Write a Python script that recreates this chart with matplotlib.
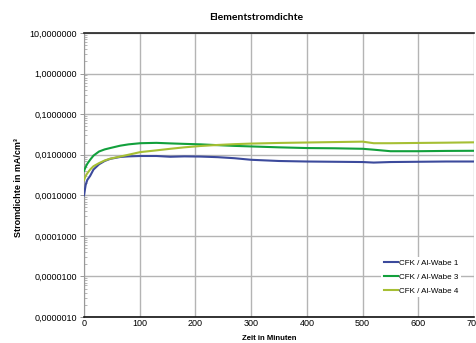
import matplotlib.pyplot as plt
from matplotlib.ticker import FixedLocator, LogLocator, NullFormatter

zeit = [0, 3, 6, 11, 17, 27, 37, 47, 65, 80, 101, 130, 155, 180, 209, 240,
        270, 300, 350, 400, 450, 500, 520, 550, 600, 650, 700]
wabe1 = [0.0010, 0.0018, 0.0024, 0.0030, 0.0043, 0.0058, 0.0070, 0.0079, 0.0088,
         0.0091, 0.0093, 0.0093, 0.0089, 0.0091, 0.0090, 0.0087, 0.0082, 0.0075,
         0.0070, 0.0068, 0.0067, 0.0066, 0.0064, 0.0066, 0.0067, 0.0068, 0.0068]
wabe3 = [0.0040, 0.0050, 0.0060, 0.0075, 0.0095, 0.0120, 0.0135, 0.0146, 0.0167,
         0.0180, 0.0192, 0.0196, 0.0190, 0.0185, 0.0180, 0.0172, 0.0165, 0.0160,
         0.0152, 0.0146, 0.0144, 0.0140, 0.0133, 0.0122, 0.0122, 0.0124, 0.0125]
wabe4 = [0.0024, 0.0030, 0.0035, 0.0043, 0.0052, 0.0062, 0.0072, 0.0080, 0.0090,
         0.0100, 0.0116, 0.0128, 0.0140, 0.0152, 0.0164, 0.0174, 0.0182, 0.0188,
         0.0195, 0.0200, 0.0205, 0.0210, 0.0192, 0.0192, 0.0195, 0.0198, 0.0202]

namen = ["CFK / Al-Wabe 1", "CFK / Al-Wabe 3", "CFK / Al-Wabe 4"]
farben = ["#3c4a9c", "#12a03c", "#a6bf34"]
x_ticks = [0, 100, 200, 300, 400, 500, 600, 700]
y_ticks = [1e-6, 1e-5, 1e-4, 1e-3, 1e-2, 1e-1, 1, 10]
y_labels = ["0,0000010", "0,0000100", "0,0001000", "0,0010000",
            "0,0100000", "0,1000000", "1,0000000", "10,0000000"]

plt.rcParams["font.family"] = ["Liberation Sans", "DejaVu Sans"]

fig = plt.figure(figsize=(4.77, 3.43), dpi=100)
ax = fig.add_axes([84 / 477, 1 - 317 / 343, 390 / 477, 284 / 343])

for werte, name, farbe in zip([wabe1, wabe3, wabe4], namen, farben):
    ax.plot(zeit, werte, color=farbe, linewidth=1.5, label=name, zorder=3)

ax.set_yscale("log")
ax.set_xlim(0, 700)
ax.set_ylim(1e-6, 10)
ax.xaxis.set_major_locator(FixedLocator(x_ticks))
ax.set_xticklabels([str(t) for t in x_ticks], fontsize=6.5)
ax.yaxis.set_major_locator(FixedLocator(y_ticks))
ax.set_yticklabels(y_labels, fontsize=6.5)
ax.yaxis.set_minor_locator(LogLocator(base=10, subs=range(2, 10)))
ax.yaxis.set_minor_formatter(NullFormatter())
ax.tick_params(axis="y", which="major", length=3, width=0.6, color="#888888", pad=2)
ax.tick_params(axis="y", which="minor", direction="in", length=2, width=0.5, color="#999999")
ax.tick_params(axis="x", which="major", length=0, pad=1.5)

ax.grid(True, which="major", color="#b4b4b4", linewidth=1.0, zorder=0)
ax.set_axisbelow(True)

ax.spines["right"].set_visible(False)
ax.spines["top"].set_color("#222222")
ax.spines["top"].set_linewidth(1.2)
ax.spines["bottom"].set_color("#111111")
ax.spines["bottom"].set_linewidth(1.2)
ax.spines["left"].set_color("#999999")
ax.spines["left"].set_linewidth(0.8)

fig.text(256 / 477, 1 - 17 / 343, "Elementstromdichte", ha="center", va="center",
         fontsize=7.5, fontweight="bold", family=["Lato", "DejaVu Sans"])
fig.text(269 / 477, 1 - 338 / 343, "Zeit in Minuten", ha="center", va="center",
         fontsize=5.6, fontweight="bold")
fig.text(19 / 477, 1 - 187.5 / 343, "Stromdichte in mA/cm³", ha="center", va="center",
         rotation=90, fontsize=6.5, fontweight="bold")

leg = ax.legend(loc="lower right", bbox_to_anchor=(0.977, 0.056), frameon=True,
                fontsize=5.8, handlelength=1.8, handletextpad=0.1,
                labelspacing=0.75, borderpad=0.3)
leg.get_frame().set_edgecolor("none")
leg.get_frame().set_facecolor("white")
leg.get_frame().set_alpha(1)

fig.savefig("out.png", dpi=100)
